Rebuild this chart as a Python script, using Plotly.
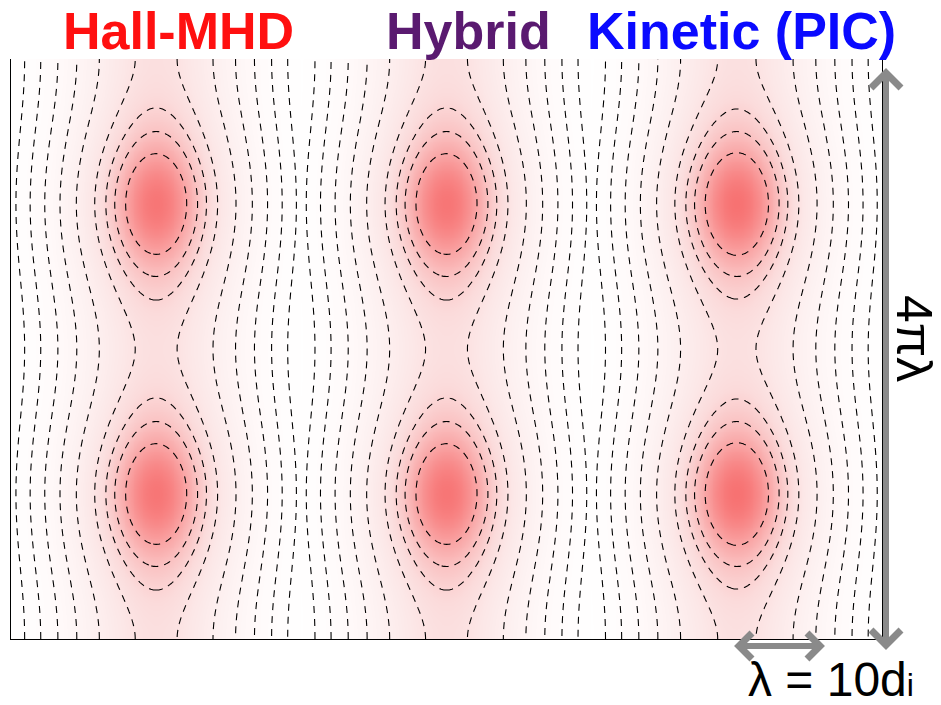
import numpy as np
import plotly.graph_objects as go

# Three models of the same double-island configuration
PANEL_TITLES = ["Hall-MHD", "Hybrid", "Kinetic (PIC)"]
TITLE_COLORS = ["#ff1010", "#5a1a70", "#0a0aff"]
ISLAND_EPS = [0.12, 0.12, 0.125]      # island amplitude (Fadeev epsilon) per model

# flux-function contour levels: (start, end, size)
ISLAND_LEVELS = (-0.057, 0.058, 0.057)   # closed island surfaces
FIELD_LEVELS = (-1.10, -0.139, 0.16)     # open field lines outside

HALF_WIDTH = 1.7          # panel half-width, units of lambda
Y_SPAN = 4 * np.pi        # box height, units of lambda
NX, NY = 161, 321

xs = np.linspace(-HALF_WIDTH, HALF_WIDTH, NX)
ys = np.linspace(0.0, Y_SPAN, NY)
X, Y = np.meshgrid(xs, ys)

# current-density colour ramp (white -> light pink -> red)
J_SCALE = [
    [0.00, "#ffffff"],
    [0.15, "#fffafa"],
    [0.35, "#fdf0f0"],
    [0.50, "#fce7e7"],
    [0.62, "#fbdbdb"],
    [0.74, "#fac4c4"],
    [0.86, "#f9a2a2"],
    [1.00, "#f77272"],
]

fig = go.Figure()
panel_w = 2 * HALF_WIDTH
j_min, j_max = 0.1, max((1 + e) / (1 - e) for e in ISLAND_EPS)

for i, eps in enumerate(ISLAND_EPS):
    C = np.cosh(X) + eps * np.cos(Y)
    psi = -np.log(C)
    J = (1 - eps ** 2) / C ** 2
    px = xs + HALF_WIDTH + i * panel_w

    fig.add_trace(go.Heatmap(
        x=px, y=ys, z=J, colorscale=J_SCALE, zmin=j_min, zmax=j_max,
        zsmooth="best", showscale=False, hoverinfo="skip"))

    for lv in (ISLAND_LEVELS, FIELD_LEVELS):
        fig.add_trace(go.Contour(
            x=px, y=ys, z=psi, autocontour=False,
            contours=dict(coloring="none", start=lv[0], end=lv[1], size=lv[2]),
            line=dict(color="black", width=1.1, dash="7px,6px"),
            showscale=False, hoverinfo="skip"))

# plot-area geometry in pixels
W, H = 941, 705
L, R, T, B = 11, 59, 59, 66
pw, ph = W - L - R, H - T - B


def px_x(p):
    return (p - L) / pw


def px_y(p):
    return (H - B - p) / ph


annotations = []
title_centers = [178, 468, 741]
for t, c, cx in zip(PANEL_TITLES, TITLE_COLORS, title_centers):
    annotations.append(dict(
        text=t, x=px_x(cx), y=px_y(31), xref="paper", yref="paper",
        xanchor="center", yanchor="middle", showarrow=False,
        font=dict(family="Liberation Sans, Arial", size=52, color=c, weight="bold")))

annotations.append(dict(
    text="4πλ", x=px_x(914), y=px_y(338), xref="paper", yref="paper",
    textangle=90, showarrow=False, xanchor="center", yanchor="middle",
    font=dict(family="Liberation Sans, Arial", size=50, color="black")))
annotations.append(dict(
    text="λ = 10d<span style='font-size:32px'>i</span>",
    x=px_x(831), y=px_y(679), xref="paper", yref="paper",
    showarrow=False, xanchor="center", yanchor="middle",
    font=dict(family="Liberation Sans, Arial", size=48, color="black")))

# double-headed scale arrows drawn as shapes (shaft + chevron heads)
ARROW_COLOR = "#8a8a8a"
shapes = []


def double_arrow(x0, y0, x1, y1, head=15):
    d = np.array([x1 - x0, y1 - y0], dtype=float)
    d /= np.hypot(*d)
    n = np.array([-d[1], d[0]])
    shapes.append(dict(type="line", xref="paper", yref="paper",
                       x0=px_x(x0), y0=px_y(y0), x1=px_x(x1), y1=px_y(y1),
                       line=dict(color=ARROW_COLOR, width=6)))
    for tip, back in (((x1, y1), -d), ((x0, y0), d)):
        tip = np.array(tip, dtype=float)
        a = tip + head * back + head * n
        b = tip + head * back - head * n
        path = (f"M {px_x(a[0])} {px_y(a[1])} L {px_x(tip[0])} {px_y(tip[1])} "
                f"L {px_x(b[0])} {px_y(b[1])}")
        shapes.append(dict(type="path", xref="paper", yref="paper", path=path,
                           line=dict(color=ARROW_COLOR, width=7)))


double_arrow(886, 645, 886, 73)
double_arrow(739, 646, 820, 646, head=13)

fig.update_layout(
    width=W, height=H,
    margin=dict(l=L, r=R, t=T, b=B),
    paper_bgcolor="white", plot_bgcolor="white",
    showlegend=False,
    annotations=annotations,
    shapes=shapes,
    xaxis=dict(range=[0, 3 * panel_w], showgrid=False, zeroline=False,
               showticklabels=False, ticks="", showline=True, linecolor="black",
               linewidth=1),
    yaxis=dict(range=[0, Y_SPAN], showgrid=False, zeroline=False,
               showticklabels=False, ticks="", showline=True, mirror=True,
               linecolor="black", linewidth=1),
)

fig.write_html("out.html")
